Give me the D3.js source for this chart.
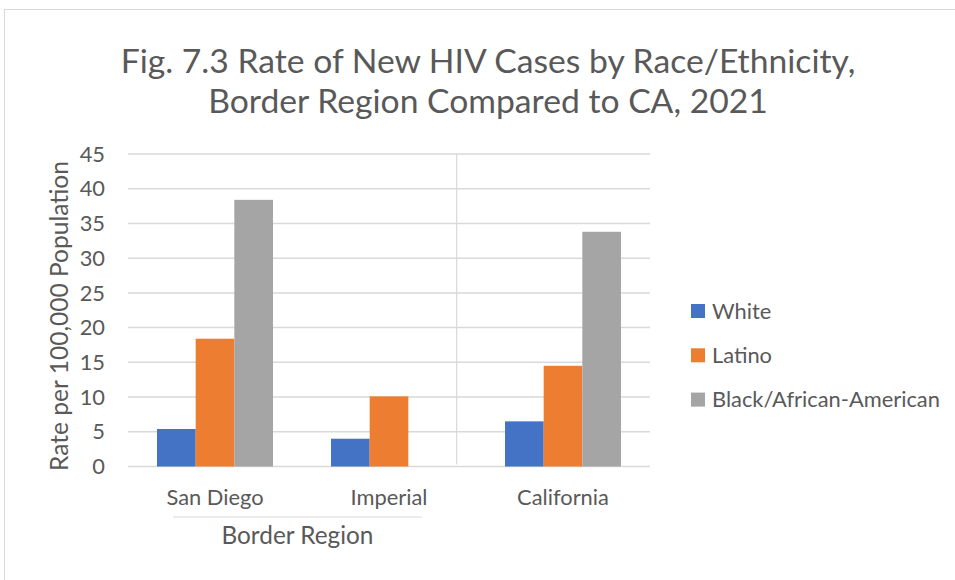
<!DOCTYPE html>
<html>
<head>
<meta charset="utf-8">
<script src="https://cdn.jsdelivr.net/npm/d3@7"></script>
<style>
  body { margin: 0; background: #fff; }
  text { font-family: Lato, "Open Sans", sans-serif; fill: #595959; }
</style>
</head>
<body>
<svg id="chart" width="955" height="580"></svg>
<script>
// data
const categories = ["San Diego", "Imperial", "California"];
const series = ["White", "Latino", "Black/African-American"];
const whiteValues = [5.4, 4.0, 6.5];
const latinoValues = [18.4, 10.1, 14.5];
const blackValues = [38.4, null, 33.8];
const yTicks = [0, 5, 10, 15, 20, 25, 30, 35, 40, 45];
const colors = ["#4472C4", "#ED7D31", "#A5A5A5"];
const groupLabel = "Border Region";
const groupMembers = ["San Diego", "Imperial"];
const titleLines = ["Fig. 7.3 Rate of New HIV Cases by Race/Ethnicity,", "Border Region Compared to CA, 2021"];
const yTitle = "Rate per 100,000 Population";

const valuesBySeries = [whiteValues, latinoValues, blackValues];

const svg = d3.select("#chart");

// measure a string to pick a font size that fills a target width
function fitSize(str, base, target) {
  const t = svg.append("text").style("font-size", base + "px").text(str);
  const w = t.node().getComputedTextLength();
  t.remove();
  return base * target / w;
}

const titleSize = fitSize(titleLines[0], 32, 735),
      labelSize = fitSize("Black/African-American", 18, 228),
      yTitleSize = fitSize(yTitle, 18, 310),
      groupSize = fitSize(groupLabel, 18, 152);

// outer frame
svg.append("rect")
  .attr("x", 4.5).attr("y", 9.5)
  .attr("width", 980).attr("height", 600)
  .attr("fill", "none").attr("stroke", "#d9d9d9");

const plot = {left: 128, right: 650, top: 154, bottom: 466.5};

const y = d3.scaleLinear().domain([0, 45]).range([plot.bottom, plot.top]);
const x0 = d3.scaleBand().domain(categories).range([plot.left, plot.right]);
const bw = x0.bandwidth() / 4.5;
const x1 = d3.scaleBand().domain(series).range([0.75 * bw, 3.75 * bw]);

// title
svg.append("g").selectAll("text").data(titleLines).join("text")
  .attr("x", 488).attr("y", (d, i) => 73 + i * 40)
  .attr("text-anchor", "middle")
  .style("font-size", `${titleSize}px`)
  .text(d => d);

// gridlines
svg.append("g").selectAll("line").data(yTicks).join("line")
  .attr("x1", plot.left).attr("x2", plot.right)
  .attr("y1", d => y(d)).attr("y2", d => y(d))
  .attr("stroke", "#d9d9d9").attr("stroke-width", 1.5);

// divider between the border region group and California
const divX = x0("California") - bw / 2;
svg.append("line")
  .attr("x1", divX).attr("x2", divX)
  .attr("y1", plot.top).attr("y2", plot.bottom - 2)
  .attr("stroke", "#d9d9d9").attr("stroke-width", 1.2);

// y tick labels
svg.append("g").selectAll("text").data(yTicks).join("text")
  .attr("x", 105).attr("y", d => y(d))
  .attr("dy", "0.35em")
  .attr("text-anchor", "end")
  .style("font-size", `${labelSize}px`)
  .text(d => d);

// y title
svg.append("text")
  .attr("transform", "translate(68,316) rotate(-90)")
  .attr("text-anchor", "middle")
  .style("font-size", `${yTitleSize}px`)
  .text(yTitle);

// bars
const groups = svg.append("g").selectAll("g").data(categories).join("g")
  .attr("transform", d => `translate(${x0(d)},0)`);

groups.selectAll("rect")
  .data((c, ci) => series.map((s, si) => ({s, si, v: valuesBySeries[si][ci]})).filter(d => d.v != null))
  .join("rect")
  .attr("x", d => x1(d.s))
  .attr("width", x1.bandwidth())
  .attr("y", d => y(d.v))
  .attr("height", d => y(0) - y(d.v))
  .attr("fill", d => colors[d.si]);

// category labels
svg.append("g").selectAll("text").data(categories).join("text")
  .attr("x", d => x0(d) + x0.bandwidth() / 2)
  .attr("y", 505)
  .attr("text-anchor", "middle")
  .style("font-size", `${labelSize}px`)
  .text(d => d);

// group bracket and label
const gx1 = x0(groupMembers[0]) + x0.bandwidth() / 2 - 42,
      gx2 = x0(groupMembers[groupMembers.length - 1]) + x0.bandwidth() / 2 + 33;
svg.append("line")
  .attr("x1", gx1).attr("x2", gx2)
  .attr("y1", 517).attr("y2", 517)
  .attr("stroke", "#d9d9d9").attr("stroke-width", 1.2);
svg.append("text")
  .attr("x", (gx1 + gx2) / 2).attr("y", 544)
  .attr("text-anchor", "middle")
  .style("font-size", `${groupSize}px`)
  .text(groupLabel);

// legend
const legend = svg.append("g").selectAll("g").data(series).join("g")
  .attr("transform", (d, i) => `translate(691,${311 + i * 44.3})`);
legend.append("rect")
  .attr("x", 0).attr("y", -7).attr("width", 14).attr("height", 14)
  .attr("fill", (d, i) => colors[i]);
legend.append("text")
  .attr("x", 21).attr("y", 0).attr("dy", "0.35em")
  .style("font-size", `${labelSize}px`)
  .text(d => d);
</script>
</body>
</html>
